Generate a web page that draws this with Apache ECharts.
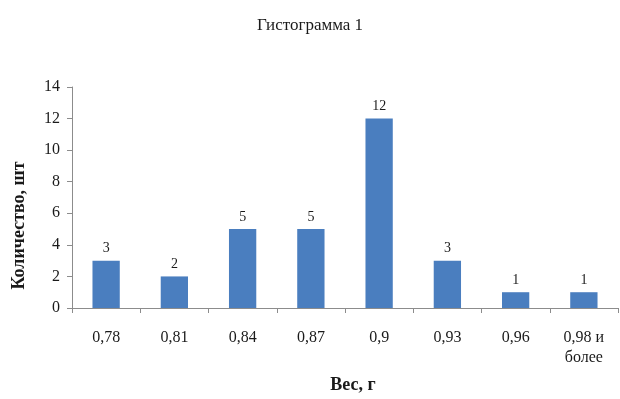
<!DOCTYPE html>
<html>
<head>
<meta charset="utf-8">
<script src="https://cdn.jsdelivr.net/npm/echarts@6/dist/echarts.min.js"></script>
<style>
  html, body { margin: 0; padding: 0; background: #fff; }
  #chart { width: 620px; height: 399px; }
</style>
</head>
<body>
<div id="chart"></div>
<script>
// данные гистограммы
const categories = ['0,78', '0,81', '0,84', '0,87', '0,9', '0,93', '0,96', '0,98 и\nболее'];
const counts = [3, 2, 5, 5, 12, 3, 1, 1];
const yTicks = [0, 2, 4, 6, 8, 10, 12, 14];

const serif = '"Liberation Serif", "DejaVu Serif", serif';

const chart = echarts.init(document.getElementById('chart'), null, { renderer: 'canvas' });

const option = {
  animation: false,
  backgroundColor: '#ffffff',
  textStyle: { fontFamily: serif },
  title: {
    text: 'Гистограмма 1',
    left: 'center',
    top: 12,
    textStyle: { fontFamily: serif, fontSize: 17, fontWeight: 'normal', color: '#1a1a1a' }
  },
  grid: { left: 72, right: 2, top: 87, bottom: 90 },
  xAxis: {
    type: 'category',
    data: categories,
    name: 'Вес, г',
    nameLocation: 'middle',
    nameGap: 68,
    nameTextStyle: { fontFamily: serif, fontSize: 18, fontWeight: 'bold', color: '#1a1a1a', padding: [0, 0, 0, 16] },
    axisLine: { lineStyle: { color: '#8c8c8c' } },
    axisTick: { show: true, alignWithLabel: false, length: 5, lineStyle: { color: '#8c8c8c' } },
    axisLabel: { fontFamily: serif, fontSize: 16, color: '#1a1a1a', margin: 20, lineHeight: 20, interval: 0 }
  },
  yAxis: {
    type: 'value',
    min: yTicks[0],
    max: yTicks[yTicks.length - 1],
    interval: 2,
    name: 'Количество, шт',
    nameLocation: 'middle',
    nameGap: 44,
    nameTextStyle: { fontFamily: serif, fontSize: 18, fontWeight: 'bold', color: '#1a1a1a', padding: [0, 56, 0, 0] },
    axisLine: { show: true, lineStyle: { color: '#8c8c8c' } },
    axisTick: { show: true, length: 5, lineStyle: { color: '#8c8c8c' } },
    splitLine: { show: false },
    axisLabel: { fontFamily: serif, fontSize: 16, color: '#1a1a1a', margin: 12 }
  },
  series: [{
    type: 'bar',
    data: counts,
    barWidth: '40%',
    itemStyle: { color: '#4a7ebf' },
    label: {
      show: true,
      position: 'top',
      distance: 5,
      fontFamily: serif,
      fontSize: 14,
      color: '#1a1a1a'
    }
  }]
};

chart.setOption(option);
</script>
</body>
</html>
